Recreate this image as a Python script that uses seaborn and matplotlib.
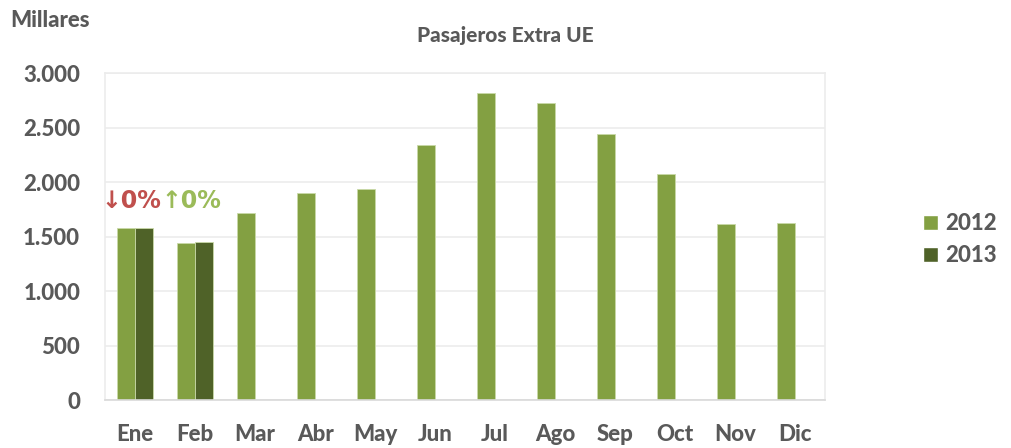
import numpy as np
import pandas as pd
import matplotlib
matplotlib.use('Agg')
import matplotlib.pyplot as plt
import seaborn as sns
from matplotlib.patches import Patch
from matplotlib.ticker import FuncFormatter, MultipleLocator

# datos (miles de pasajeros)
meses = ['Ene', 'Feb', 'Mar', 'Abr', 'May', 'Jun', 'Jul', 'Ago', 'Sep', 'Oct', 'Nov', 'Dic']
pasajeros_2012 = [1580, 1447, 1720, 1903, 1942, 2347, 2822, 2727, 2441, 2080, 1613, 1625]
pasajeros_2013 = [1585, 1456, None, None, None, None, None, None, None, None, None, None]
anios = ['2012', '2013']
variaciones = ['↓0%', '↑0%']

colores = {'2012': '#83a042', '2013': '#4f6228'}
gris = '#595959'
peso = 'black'

df = pd.DataFrame({
    'mes': meses * 2,
    'anio': [anios[0]] * 12 + [anios[1]] * 12,
    'valor': pasajeros_2012 + pasajeros_2013,
}).astype({'valor': float})

sns.set_theme(style='white')
plt.rcParams['font.family'] = ['Lato', 'DejaVu Sans']
plt.rcParams['font.weight'] = peso

fig = plt.figure(figsize=(10.11, 4.48), dpi=100)
ax = fig.add_axes([0.104, 0.107, 0.712, 0.729])

sns.barplot(data=df, x='mes', y='valor', hue='anio', order=meses, hue_order=anios,
            palette=colores, width=0.6, ax=ax, legend=False, saturation=1,
            edgecolor='#c9d9a8', linewidth=0.6)

ax.set_ylim(0, 3000)
ax.set_xlim(-0.5, 11.5)
ax.yaxis.set_major_locator(MultipleLocator(500))
ax.yaxis.set_major_formatter(FuncFormatter(lambda v, p: f'{int(v):,}'.replace(',', '.')))
ax.grid(axis='y', color='#ececec', linewidth=1.2)
ax.set_axisbelow(True)
for s in ['left', 'right', 'top']:
    ax.spines[s].set_color('#ececec')
    ax.spines[s].set_linewidth(1.2)
ax.spines['bottom'].set_color('#d9d9d9')
ax.spines['bottom'].set_linewidth(1.2)

ax.set_xlabel('')
ax.set_ylabel('')
ax.tick_params(axis='y', length=0, pad=18, labelsize=16, labelcolor=gris)
ax.tick_params(axis='x', which='major', length=0, pad=17, labelsize=16, labelcolor=gris)
ax.set_xticks(np.arange(-0.5, 12, 1), minor=True)
ax.tick_params(axis='x', which='minor', length=8, color='#d9d9d9', width=1.2)
for lab in ax.get_xticklabels() + ax.get_yticklabels():
    lab.set_fontweight(peso)

# variaciones sobre Ene y Feb
ax.text(-0.07, 1720, variaciones[0], color='#c0504d', fontsize=17, fontweight='bold',
        ha='center', va='bottom', family=['DejaVu Sans'])
ax.text(0.93, 1720, variaciones[1], color='#9bbb59', fontsize=17, fontweight='bold',
        ha='center', va='bottom', family=['DejaVu Sans'])

fig.text(0.01, 0.955, 'Millares', fontsize=16, fontweight=peso, color=gris, ha='left', va='center')
fig.text(0.5, 0.92, 'Pasajeros Extra UE', fontsize=15, fontweight=peso, color=gris, ha='center', va='center')

handles = [Patch(facecolor=colores[a], label=a) for a in anios]
leg = fig.legend(handles=handles, loc='center left', bbox_to_anchor=(0.893, 0.465),
                 frameon=False, fontsize=16, handlelength=0.7, handleheight=0.7,
                 handletextpad=0.3, labelspacing=0.5, labelcolor=gris)
for t in leg.get_texts():
    t.set_fontweight(peso)

fig.savefig('out.png', dpi=100)
